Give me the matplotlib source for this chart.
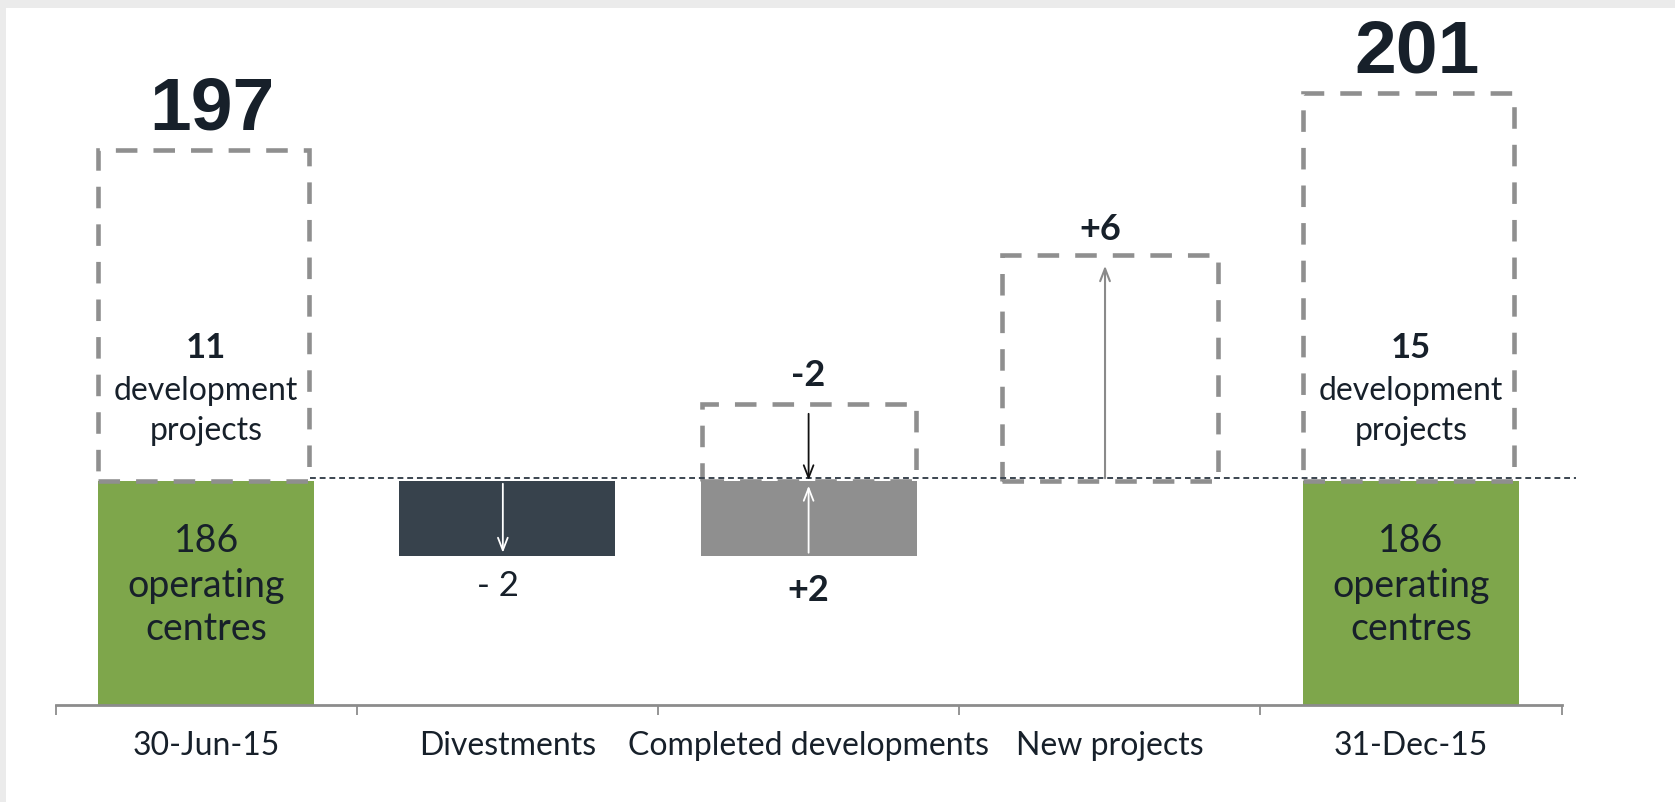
import matplotlib
matplotlib.use("Agg")
import matplotlib.pyplot as plt
from matplotlib.patches import Rectangle

# categories and labels
categories = ["30-Jun-15", "Divestments", "Completed developments", "New projects", "31-Dec-15"]
totals = ["197", "201"]
operating = [186, 186]
development = [11, 15]
change_labels = ["- 2", "-2", "+2", "+6"]

# schematic heights (chart is not to scale)
base_level = 2.24
operating_h = [2.24, 2.24]
dev_box_h = [3.31, 3.88]
divest_h = 0.745
completed_bar_h = 0.745
completed_box_h = 0.77
new_box_h = 2.26

TXT = "#17202a"
GREEN = "#7ea64b"
DARK = "#37424c"
MID = "#8f8f8f"
DASHC = "#8f8f8f"

fig = plt.figure(figsize=(16.75, 8.02), dpi=100)
fig.patch.set_facecolor("#ebebeb")
fig.patches.append(Rectangle((6 / 1675, 0), 1, (802 - 8) / 802, transform=fig.transFigure,
                             facecolor="white", edgecolor="none", zorder=-10))

ax = fig.add_axes([55.5 / 1675, (802 - 705) / 802, (1561.7 - 55.5) / 1675, (705 - 8) / 802])
ax.set_xlim(-0.5, 4.5)
ax.set_ylim(0, 6.97)
ax.patch.set_alpha(0)
for s in ["top", "right", "left"]:
    ax.spines[s].set_visible(False)
ax.spines["bottom"].set_color("#8c8c8c")
ax.spines["bottom"].set_linewidth(2)
ax.set_yticks([])
ax.set_xticks([i - 0.5 for i in range(6)])
ax.set_xticklabels([])
ax.tick_params(axis="x", which="major", length=7, width=1.3, color="#8c8c8c")
ax.set_xticks(range(5), minor=True)
ax.set_xticklabels(categories, minor=True, fontsize=23, color=TXT, family="Lato")
ax.tick_params(axis="x", which="minor", length=0, pad=19)

bw = 0.717
dash_kw = dict(fill=False, edgecolor=DASHC, linewidth=3.3, linestyle=(0, (4.7, 3.5)))

# operating centres (green) and development boxes
ends = [0, 4]
for i, x in enumerate(ends):
    ax.bar(x, operating_h[i], width=bw, color=GREEN, zorder=2)
    ax.bar(x - 0.01, dev_box_h[i], width=0.70, bottom=base_level, zorder=3, **dash_kw)
    top = base_level + dev_box_h[i]
    ax.text(x + 0.02, top + 0.40, totals[i], ha="center", va="center", fontsize=54,
            fontweight="bold", color=TXT, family="Liberation Sans")
    ax.text(x, base_level + 1.33, str(development[i]), ha="center", va="center",
            fontsize=25, fontweight="bold", color=TXT, family="Lato")
    ax.text(x, base_level + 0.90, "development", ha="center", va="center",
            fontsize=23, color=TXT, family="Lato")
    ax.text(x, base_level + 0.50, "projects", ha="center", va="center",
            fontsize=23, color=TXT, family="Lato")
    ax.text(x, 1.645, str(operating[i]), ha="center", va="center", fontsize=27, color=TXT, family="Lato")
    ax.text(x, 1.19, "operating", ha="center", va="center", fontsize=27, color=TXT, family="Lato")
    ax.text(x, 0.76, "centres", ha="center", va="center", fontsize=27, color=TXT, family="Lato")

# reference line at operating level
ax.plot([0.344, 4.547], [base_level + 0.035] * 2, color="#3b4550", lw=1.4,
        linestyle=(0, (3, 2)), zorder=4, clip_on=False)

# divestments
ax.bar(1, -divest_h, width=bw, bottom=base_level, color=DARK, zorder=2)
ax.annotate("", xy=(0.985, base_level - divest_h), xytext=(0.985, base_level),
            arrowprops=dict(arrowstyle="->,head_length=0.9,head_width=0.35", color="white", lw=1.3),
            zorder=5)
ax.text(0.968, base_level - divest_h - 0.31, change_labels[0], ha="center", va="center",
        fontsize=25, color=TXT, family="Lato")

# completed developments
ax.bar(2, -completed_bar_h, width=bw, bottom=base_level, color=MID, zorder=2)
ax.bar(2, completed_box_h, width=0.71, bottom=base_level, zorder=3, **dash_kw)
ax.annotate("", xy=(2.0, base_level - 0.02), xytext=(2.0, base_level + completed_box_h - 0.07),
            arrowprops=dict(arrowstyle="->,head_length=0.9,head_width=0.35", color="#111111", lw=1.3),
            zorder=5)
ax.annotate("", xy=(2.0, base_level - 0.02), xytext=(2.0, base_level - completed_bar_h),
            arrowprops=dict(arrowstyle="->,head_length=0.9,head_width=0.35", color="white", lw=1.3),
            zorder=5)
ax.text(2.0, base_level + completed_box_h + 0.28, change_labels[1], ha="center", va="center",
        fontsize=26, fontweight="bold", color=TXT, family="Lato")
ax.text(2.0, base_level - completed_bar_h - 0.35, change_labels[2], ha="center", va="center",
        fontsize=26, fontweight="bold", color=TXT, family="Lato")

# new projects
ax.bar(3, new_box_h, width=0.717, bottom=base_level, zorder=3, **dash_kw)
ax.annotate("", xy=(2.984, base_level + new_box_h - 0.08), xytext=(2.984, base_level),
            arrowprops=dict(arrowstyle="->,head_length=0.9,head_width=0.35", color="#8a8a8a", lw=1.5),
            zorder=5)
ax.text(2.97, base_level + new_box_h + 0.26, change_labels[3], ha="center", va="center",
        fontsize=26, fontweight="bold", color=TXT, family="Lato")

fig.savefig("out.png", dpi=100, facecolor=fig.get_facecolor())
